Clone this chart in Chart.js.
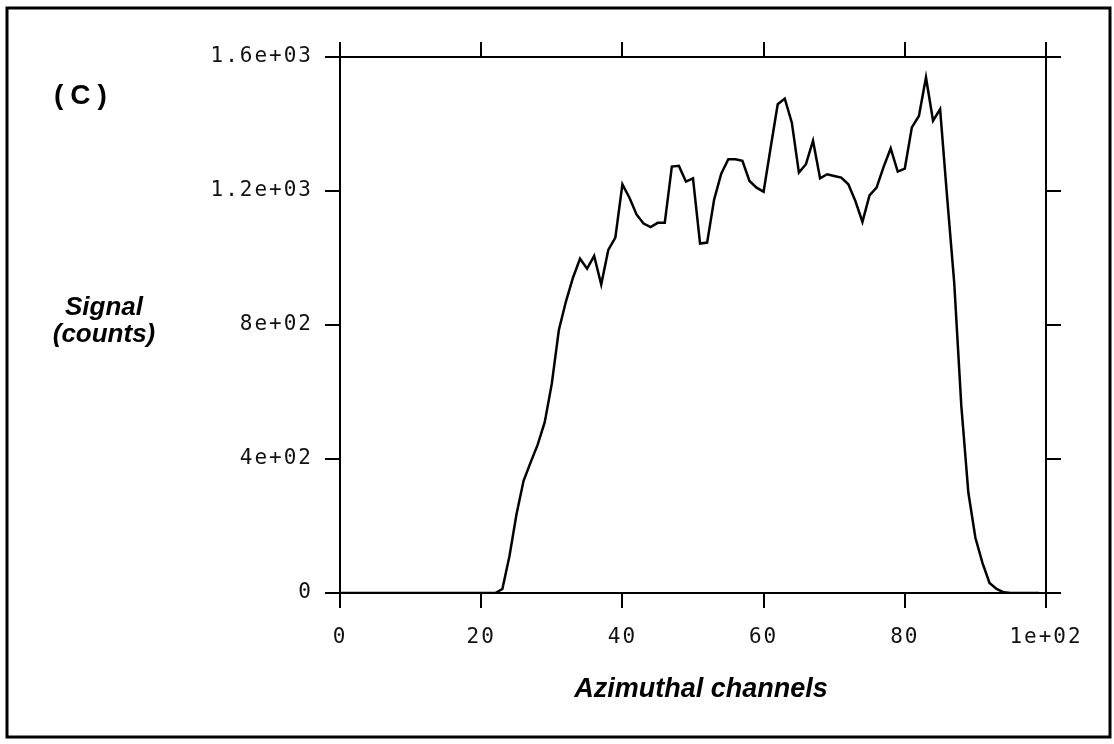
<!doctype html>
<html>
  <head>
    <meta charset="utf-8">
    <title>Azimuthal channels - signal (C)</title>
    <style>
      html, body {
        margin: 0;
        background: #fff;
      }
    </style>
  </head>
  <body>
    <canvas id="canvas" width="1114" height="744"></canvas>

    <script src="https://cdn.jsdelivr.net/npm/chart.js@4"></script>
    <script>
      // signal (counts) per azimuthal channel, channel 0..99
      var signal = [
        0, 0, 0, 0, 0, 0, 0, 0, 0, 0,
        0, 0, 0, 0, 0, 0, 0, 0, 0, 0,
        0, 0, 0, 12, 110, 235, 335, 390, 443, 510,
        625, 785, 870, 941, 998, 968, 1006, 921, 1024, 1061,
        1220, 1180, 1130, 1103, 1092, 1105, 1105, 1273, 1275, 1228,
        1238, 1043, 1046, 1175, 1252, 1295, 1295, 1290, 1230, 1210,
        1198, 1330, 1459, 1476, 1404, 1255, 1280, 1350, 1238, 1250,
        1245, 1240, 1220, 1170, 1108, 1187, 1210, 1272, 1327, 1258,
        1267, 1390, 1424, 1539, 1410, 1444, 1180, 926, 560, 300,
        165, 90, 30, 12, 2, 0, 0, 0, 0, 0
      ]

      var xTicks = [0, 20, 40, 60, 80, 100]
      var xTickLabels = ['0', '20', '40', '60', '80', '1e+02']
      var yTicks = [0, 400, 800, 1200, 1600]
      var yTickLabels = ['0', '4e+02', '8e+02', '1.2e+03', '1.6e+03']

      var points = signal.map(function(v, i) {
        return { x: i, y: v }
      })

      var tickFont = { family: '"DejaVu Sans Mono", monospace', size: 21 }

      var axis = function(pos, min, max, ticks, labels, size, showLabels) {
        return {
          type: 'linear',
          position: pos,
          min: min,
          max: max,
          afterBuildTicks: function(scale) {
            scale.ticks = ticks.map(function(v) { return { value: v } })
          },
          afterFit: function(scale) {
            if (pos == 'left' || pos == 'right') scale.width = size
            else scale.height = size
          },
          grid: {
            drawOnChartArea: false,
            drawTicks: true,
            tickLength: 15,
            color: '#000',
            lineWidth: 2
          },
          border: { display: true, color: '#000', width: 2 },
          ticks: {
            display: showLabels,
            font: tickFont,
            color: '#111',
            padding: pos == 'left' ? 12 : 17,
            maxRotation: 0,
            autoSkip: false,
            callback: function(value) {
              var i = ticks.indexOf(value)
              return i >= 0 ? labels[i] : ''
            }
          }
        }
      }

      // frame, panel letter and the axis titles
      var annotations = {
        id: 'annotations',
        beforeDraw: function(chart) {
          // the plotter font in the original is widely spaced
          chart.ctx.letterSpacing = '2px'
        },
        afterDraw: function(chart) {
          var ctx = chart.ctx
          ctx.letterSpacing = '0px'
          ctx.save()
          ctx.strokeStyle = '#000'
          ctx.lineWidth = 3
          ctx.strokeRect(7, 8, 1103, 729)

          ctx.fillStyle = '#000'
          ctx.textBaseline = 'alphabetic'
          ctx.textAlign = 'left'
          ctx.font = 'bold 28px "Liberation Sans", Arial, sans-serif'
          ctx.letterSpacing = '7px'
          ctx.fillText('(C)', 54, 104)
          ctx.letterSpacing = '0px'

          ctx.textAlign = 'center'
          ctx.font = 'italic bold 26px "Liberation Sans", Arial, sans-serif'
          ctx.fillText('Signal', 104, 315)
          ctx.fillText('(counts)', 104, 342)
          ctx.font = 'italic bold 27px "Liberation Sans", Arial, sans-serif'
          ctx.fillText('Azimuthal channels', 701, 697)
          ctx.restore()
        }
      }

      var ctx = document.getElementById('canvas').getContext('2d')
      window.my_chart = new Chart(ctx, {
        type: 'line',
        data: {
          datasets: [{
            data: points,
            borderColor: '#000',
            borderWidth: 2.5,
            pointRadius: 0,
            tension: 0,
            fill: false
          }]
        },
        options: {
          responsive: false,
          animation: false,
          devicePixelRatio: 1,
          layout: { padding: 0 },
          plugins: {
            legend: { display: false },
            tooltip: { enabled: false }
          },
          scales: {
            x: axis('bottom', 0, 100, xTicks, xTickLabels, 151, true),
            x2: axis('top', 0, 100, xTicks, xTickLabels, 57, false),
            y: axis('left', 0, 1600, yTicks, yTickLabels, 340, true),
            y2: axis('right', 0, 1600, yTicks, yTickLabels, 68, false)
          }
        },
        plugins: [annotations]
      })
    </script>
  </body>
</html>
